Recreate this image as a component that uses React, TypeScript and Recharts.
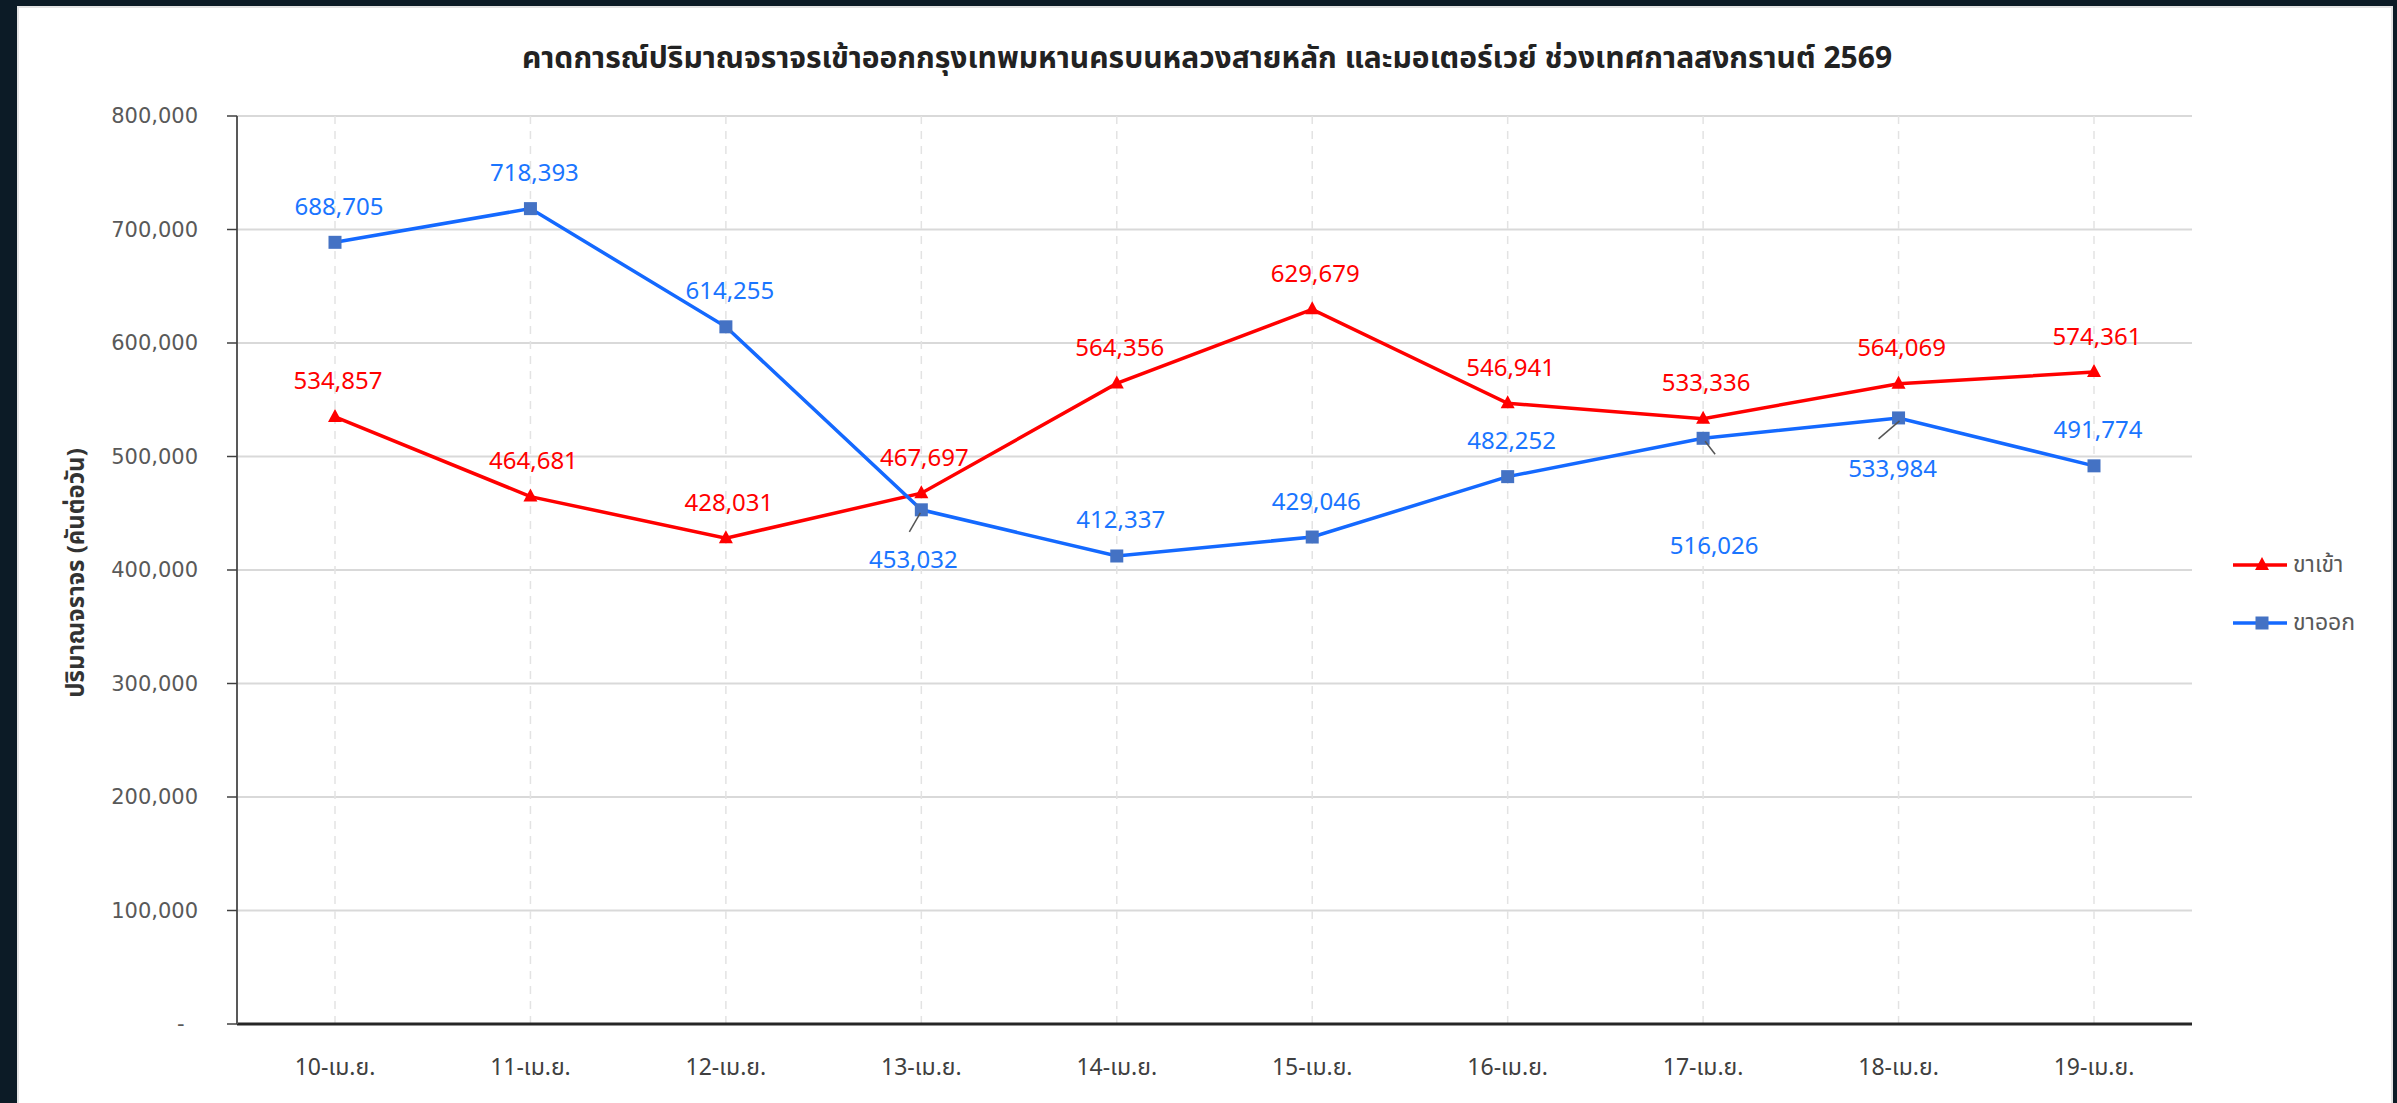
import { CartesianGrid, Legend, LabelList, Line, LineChart, ReferenceLine, XAxis, YAxis } from 'recharts'

const days = ['10-เม.ย.', '11-เม.ย.', '12-เม.ย.', '13-เม.ย.', '14-เม.ย.', '15-เม.ย.', '16-เม.ย.', '17-เม.ย.', '18-เม.ย.', '19-เม.ย.']
const inbound = [534857, 464681, 428031, 467697, 564356, 629679, 546941, 533336, 564069, 574361]
const outbound = [688705, 718393, 614255, 453032, 412337, 429046, 482252, 516026, 533984, 491774]
const yTicks = [0, 100000, 200000, 300000, 400000, 500000, 600000, 700000, 800000]

const data = days.map((day, i) => ({ day, inbound: inbound[i], outbound: outbound[i] }))

const RED = '#ff0000'
const BLUE = '#1469ff'
const BLUE_MARK = '#4472c4'
const BLUE_TEXT = '#1a75ff'
const THAI = "'Noto Sans Thai', Tahoma, 'Noto Sans', sans-serif"
const LABEL_FONT = "'Noto Sans', 'Open Sans', sans-serif"

// labels of the outbound series that sit under their point, with a small leader line
const belowOut: Record<number, { dx: number; dy: number; line: number[] }> = {
  3: { dx: -8, dy: 49, line: [-1, 3, -12, 22] },
  7: { dx: 11, dy: 106, line: [2, 3, 12, 16] },
  8: { dx: -6, dy: 50, line: [1, 3, -20, 21] },
}

const fmt = (v: number) => v.toLocaleString('en-US')

const Triangle = (p: any) => {
  const { cx, cy } = p
  if (cx == null || cy == null) return null
  return <polygon key={`t${p.index}`} points={`${cx},${cy - 8} ${cx - 7},${cy + 5} ${cx + 7},${cy + 5}`} fill={RED} />
}

const Square = (p: any) => {
  const { cx, cy } = p
  if (cx == null || cy == null) return null
  return <rect key={`s${p.index}`} x={cx - 6.5} y={cy - 6.5} width={13} height={13} fill={BLUE_MARK} />
}

const inLabel = (p: any) => (
  <text x={p.x + 3} y={p.y - 37} textAnchor='middle' dominantBaseline='central' fill={RED} fontSize={24} fontFamily={LABEL_FONT}>
    {fmt(p.value)}
  </text>
)

const outLabel = (p: any) => {
  const b = belowOut[p.index]
  if (b) {
    const [x1, y1, x2, y2] = b.line
    return (
      <g>
        <line x1={p.x + x1} y1={p.y + y1} x2={p.x + x2} y2={p.y + y2} stroke='#555' strokeWidth={1.5} />
        <text x={p.x + b.dx} y={p.y + b.dy} textAnchor='middle' dominantBaseline='central' fill={BLUE_TEXT} fontSize={24} fontFamily={LABEL_FONT}>
          {fmt(p.value)}
        </text>
      </g>
    )
  }
  return (
    <text x={p.x + 4} y={p.y - 37} textAnchor='middle' dominantBaseline='central' fill={BLUE_TEXT} fontSize={24} fontFamily={LABEL_FONT}>
      {fmt(p.value)}
    </text>
  )
}

const yLabel = (p: any) => {
  const { x, y, height } = p.viewBox
  const cx = x + 40
  const cy = y + height / 2 + 3
  return (
    <text x={cx} y={cy} transform={`rotate(-90 ${cx} ${cy})`} textAnchor='middle' dominantBaseline='central' fontSize={24} fontWeight='bold' fill='#333' fontFamily={THAI}>
      ปริมาณจราจร (คันต่อวัน)
    </text>
  )
}

const LegendBox = () => (
  <div style={{ fontFamily: THAI, fontSize: 23, color: '#595959' }}>
    {[
      { name: 'ขาเข้า', color: RED, mark: 'tri' },
      { name: 'ขาออก', color: BLUE, mark: 'sq' },
    ].map((it) => (
      <div key={it.name} style={{ height: 58, display: 'flex', alignItems: 'center' }}>
        <svg width={56} height={20}>
          <line x1={0} y1={10} x2={54} y2={10} stroke={it.color} strokeWidth={3.5} />
          {it.mark === 'tri' ? (
            <polygon points='29,2 22,15 36,15' fill={RED} />
          ) : (
            <rect x={22.5} y={3.5} width={13} height={13} fill={BLUE_MARK} />
          )}
        </svg>
        <span style={{ marginLeft: 4 }}>{it.name}</span>
      </div>
    ))}
  </div>
)

export default function App() {
  return (
    <div style={{ position: 'absolute', left: 0, top: 0, width: 2397, height: 1103, background: '#0c1b26', overflow: 'hidden' }}>
      <div style={{ position: 'absolute', left: 17, top: 6, width: 2372, height: 1100, background: '#fff', borderLeft: '2px solid #e4e4e4', borderTop: '2px solid #e4e4e4', borderRight: '2px solid #e4e4e4' }} />
      <div style={{ position: 'absolute', left: 0, top: 36, width: 2414, textAlign: 'center', fontFamily: THAI, fontSize: 30, fontWeight: 'bold', color: '#222' }}>
        คาดการณ์ปริมาณจราจรเข้าออกกรุงเทพมหานครบนหลวงสายหลัก และมอเตอร์เวย์ ช่วงเทศกาลสงกรานต์ 2569
      </div>
      <div style={{ position: 'absolute', left: 0, top: 0 }}>
        <LineChart width={2397} height={1103} data={data} margin={{ top: 116, right: 55, bottom: 19, left: 37 }}>
          <CartesianGrid horizontal={true} vertical={false} stroke='#d9d9d9' strokeWidth={2} />
          {days.map((d) => (
            <ReferenceLine key={d} x={d} stroke='#e3e3e3' strokeWidth={1.5} strokeDasharray='8 7' />
          ))}
          <XAxis
            dataKey='day'
            height={60}
            padding={{ left: 98, right: 98 }}
            axisLine={{ stroke: '#262626', strokeWidth: 3 }}
            tickLine={false}
            tickSize={0}
            tickMargin={35}
            tick={{ fontSize: 23, fill: '#404040', fontFamily: THAI }}
          />
          <YAxis
            width={200}
            domain={[0, 800000]}
            ticks={yTicks}
            interval={0}
            axisLine={{ stroke: '#595959', strokeWidth: 2 }}
            tickLine={{ stroke: '#404040', strokeWidth: 1.5 }}
            tickSize={10}
            tickMargin={29}
            tick={{ fontSize: 21, fill: '#595959', fontFamily: "'DejaVu Sans', sans-serif" }}
            tickFormatter={(v: number) => (v === 0 ? '-\u00a0\u00a0' : fmt(v))}
            label={{ content: yLabel }}
          />
          <Legend
            layout='vertical'
            align='right'
            verticalAlign='middle'
            width={150}
            wrapperStyle={{ left: 2233, top: 536 }}
            content={<LegendBox />}
          />
          <Line
            type='linear'
            dataKey='inbound'
            name='ขาเข้า'
            stroke={RED}
            strokeWidth={3.5}
            dot={Triangle}
            activeDot={false}
            isAnimationActive={false}
          >
            <LabelList dataKey='inbound' content={inLabel} />
          </Line>
          <Line
            type='linear'
            dataKey='outbound'
            name='ขาออก'
            stroke={BLUE}
            strokeWidth={3.5}
            dot={Square}
            activeDot={false}
            isAnimationActive={false}
          >
            <LabelList dataKey='outbound' content={outLabel} />
          </Line>
        </LineChart>
      </div>
    </div>
  )
}
